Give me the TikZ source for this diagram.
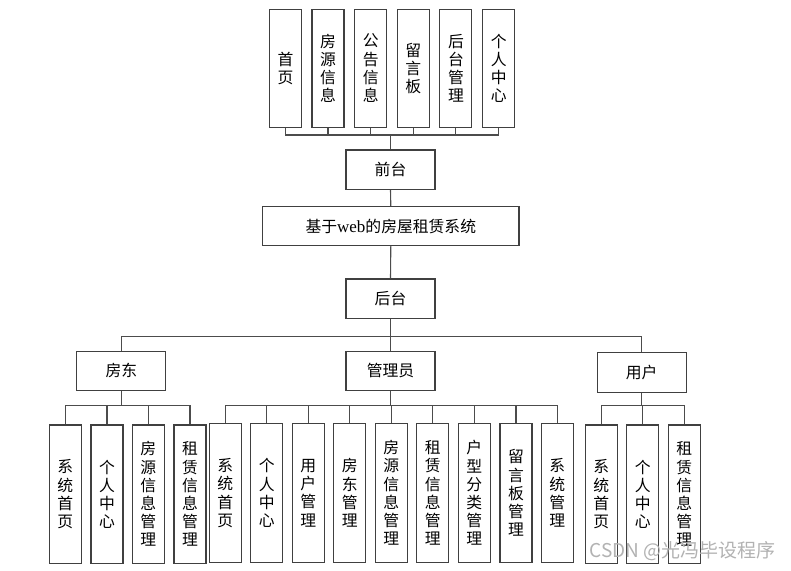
\documentclass[tikz,border=0pt]{standalone}
\usepackage{fontspec}
\setmainfont{Liberation Serif}
\newfontfamily\cjk{Noto Sans CJK SC}
\begin{document}
\begin{tikzpicture}[x=1pt,y=-1pt,
  box/.style={draw=black!75,line width=1.1pt,fill=white,inner sep=0pt,font=\cjk\fontsize{15.8}{18.2}\selectfont},
  hbox/.style={box,minimum width=89pt,minimum height=39.5pt},
  vbox/.style={box,minimum width=32pt,minimum height=138.5pt,align=center},
  tbox/.style={box,minimum width=32pt,minimum height=118pt,align=center},
  link/.style={draw=black!70,line width=1.1pt}]
\useasboundingbox (0,0) rectangle (791,570);
% top row
\node[tbox] (t1) at (285.5,68.3) {首\\页};
\node[tbox] (t2) at (328,68.3) {房\\源\\信\\息};
\node[tbox] (t3) at (370.8,68.3) {公\\告\\信\\息};
\node[tbox] (t4) at (413.3,68.3) {留\\言\\板};
\node[tbox] (t5) at (455.9,68.3) {后\\台\\管\\理};
\node[tbox] (t6) at (498.7,68.3) {个\\人\\中\\心};
\node[hbox] (front) at (390.5,169.7) {前台};
\node[box,minimum width=256.3pt,minimum height=38.5pt] (sys) at (390.8,226) {基于{\rmfamily\fontsize{17}{18}\selectfont web}的房屋租赁系统};
\node[hbox] (back) at (390.5,298.7) {后台};
\node[hbox] (ll) at (121.3,370.8) {房东};
\node[hbox] (ad) at (390.5,370.8) {管理员};
\node[hbox] (us) at (641.7,372.5) {用户};
% landlord leaves
\node[vbox] (l1) at (65.3,494.2) {系\\统\\首\\页};
\node[vbox] (l2) at (107,494.2) {个\\人\\中\\心};
\node[vbox] (l3) at (148.3,494.2) {房\\源\\信\\息\\管\\理};
\node[vbox] (l4) at (190,494.2) {租\\赁\\信\\息\\管\\理};
% admin leaves
\node[vbox] (a1) at (225.3,493) {系\\统\\首\\页};
\node[vbox] (a2) at (266.8,493) {个\\人\\中\\心};
\node[vbox] (a3) at (308.3,493) {用\\户\\管\\理};
\node[vbox] (a4) at (349.7,493) {房\\东\\管\\理};
\node[vbox] (a5) at (391.3,493) {房\\源\\信\\息\\管\\理};
\node[vbox] (a6) at (432.7,493) {租\\赁\\信\\息\\管\\理};
\node[vbox] (a7) at (474.3,493) {户\\型\\分\\类\\管\\理};
\node[vbox] (a8) at (516,493) {留\\言\\板\\管\\理};
\node[vbox] (a9) at (557.3,493) {系\\统\\管\\理};
% user leaves
\node[vbox] (u1) at (601.3,494.2) {系\\统\\首\\页};
\node[vbox] (u2) at (642.7,494.2) {个\\人\\中\\心};
\node[vbox] (u3) at (684.3,494.2) {租\\赁\\信\\息\\管\\理};
% bus coordinates
\coordinate (topbus) at (390.5,135);
\coordinate (rolebus) at (390.5,336.7);
\coordinate (lbus) at (121.3,405.7);
\coordinate (abus) at (390.5,405.7);
\coordinate (ubus) at (641.7,405.7);
% connectors
\foreach \n in {t1,t2,t3,t4,t5,t6} \draw[link] (\n.south) |- (topbus);
\draw[link] (topbus) -- (front.north);
\draw[link] (front.south) -- (sys.north);
\draw[link] (sys.south) -- (back.north);
\draw[link] (back.south) -- (rolebus);
\foreach \n in {ll,ad,us} \draw[link] (\n.north) |- (rolebus);
\draw[link] (ll.south) -- (lbus);
\draw[link] (ad.south) -- (abus);
\draw[link] (us.south) -- (ubus);
\foreach \n in {l1,l2,l3,l4} \draw[link] (\n.north) |- (lbus);
\foreach \n in {a1,a2,a3,a4,a5,a6,a7,a8,a9} \draw[link] (\n.north) |- (abus);
\foreach \n in {u1,u2,u3} \draw[link] (\n.north) |- (ubus);
% watermark
\node[text=black!30,inner sep=0pt,font=\cjk\fontsize{19}{20}\selectfont,anchor=east] (wm) at (776,551) {CSDN @光冯毕设程序};
\end{tikzpicture}
\end{document}
